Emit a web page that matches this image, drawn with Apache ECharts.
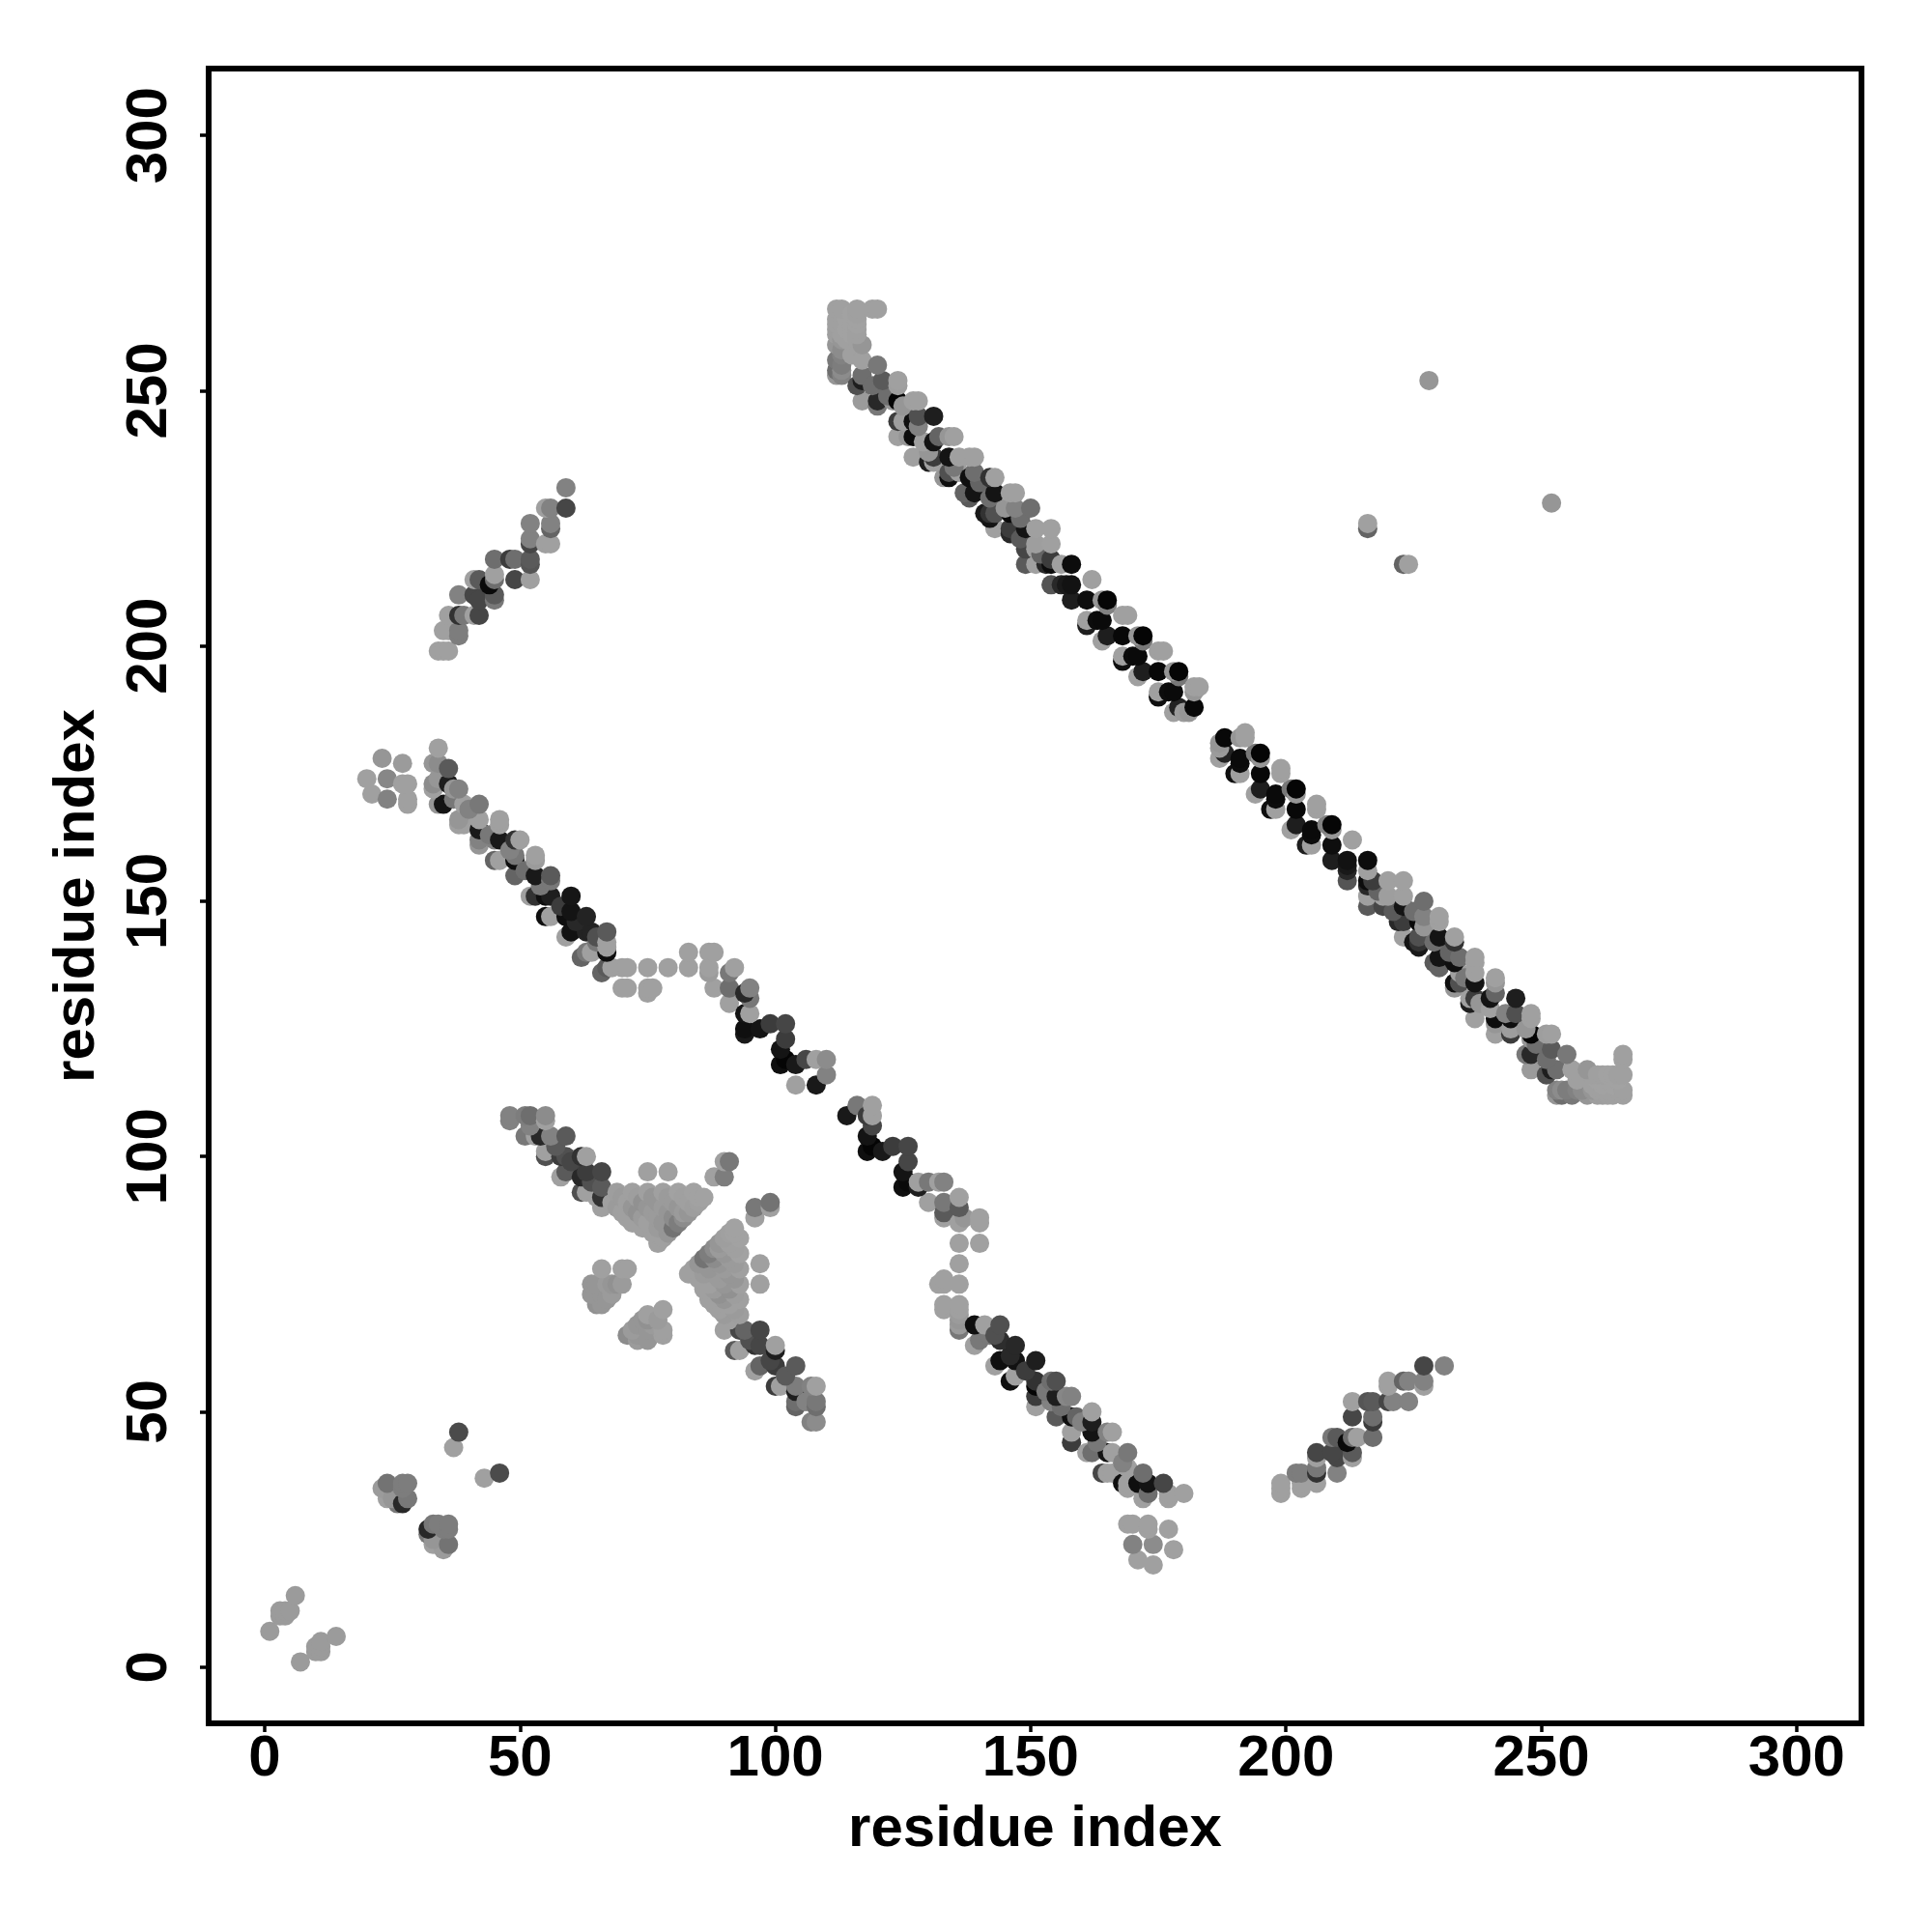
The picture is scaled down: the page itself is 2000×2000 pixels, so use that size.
<!DOCTYPE html>
<html><head><meta charset="utf-8"><style>html,body{margin:0;padding:0;background:#fff}#c{width:2000px;height:2000px}</style>
<script src="https://cdn.jsdelivr.net/npm/echarts@6/dist/echarts.min.js"></script></head><body><div id="c"></div>
<script>
// Each contact is [residue x, residue y, grey level 0-255]
const tickValues = [0,50,100,150,200,250,300];
const axisTitle = 'residue index';
const sparseContacts = [[228,252,150],[252,228,150],[216,224,160],[216,223,100],[224,216,160],[223,216,100],
[6,14,155],[3,11,155],[4,11,155],[5,11,155],[4,10,155],[3,10,155],[1,7,155],[14,6,155],[11,5,155],[10,4,155],[11,4,155],[10,3,155],[11,3,155],[7,1,155]];
const smallClusters = [[38,46,75],[37,43,160],[46,38,75],[43,37,160],
[23,35,155],[24,36,115],[28,36,125],[27,36,125],[27,35,125],[24,33,160],[28,33,120],[27,32,40],[26,32,120],[25,33,150],
[35,23,155],[36,24,115],[36,28,125],[36,27,125],[35,27,125],[33,24,160],[33,28,120],[32,27,40],[32,26,120],[33,25,150],[34,28,125]];
const strand1Upper = [[112,266,160],[113,266,160],[116,266,160],[119,266,160],[120,266,160],
[112,264,160],[112,263,160],[112,262,158],[112,261,158],[113,265,160],[113,263,160],[113,262,160],[113,261,160],[114,264,162],[114,262,162],[114,260,160],[115,265,162],[115,263,162],[115,261,162],[116,265,160],[116,264,162],[116,263,162],[116,262,160],[116,261,160],[116,260,160],[112,259,150],[113,260,150],[113,258,140],[117,259,150],[113,257,130],[112,256,120],[113,255,125],[112,254,110],[113,254,140],[112,253,150],[113,253,130],[115,257,160],
[117,256,160],[120,255,120],[117,253,110],[117,252,30],[116,251,80],[117,248,155],[121,252,90],[120,248,40],[120,247,120],[119,251,110],[124,252,160],[124,251,158],[124,248,5],[123,248,150],[127,248,160],[128,248,160],[124,244,60],[124,241,160],[125,244,158],[127,244,15],[128,245,80],[131,245,30],[127,241,12],[126,241,150],[131,240,20],[132,241,100],[135,241,160],[134,241,150],[131,237,60],[131,236,160],[127,237,160],[130,238,150],[134,237,20],[136,237,160],[138,237,160],[139,237,160],[134,234,80],[134,233,15],[133,233,150],[136,234,160],[138,233,15],[139,234,110],[143,233,160],[142,233,50],[139,230,20],[138,229,90],[143,230,20],[142,229,110],[146,230,160],[147,230,160],[147,227,130],[146,226,10],[145,227,150],[150,227,110],[143,226,80],[142,226,50],[142,225,20],[143,223,160],[146,223,60],[146,222,40],[149,223,20],[151,223,160],[154,223,160],[154,220,160],[151,219,160],[149,219,70],[151,220,158],[149,216,90],[151,216,160],[154,216,12],[154,217,60],[153,216,40],
[154,212,85],[157,212,25],[158,212,18],[158,216,12],[156,216,160],[162,213,160],[161,209,14],[158,209,30],[164,209,150],[165,208,130],[165,209,6],
[161,205,160],[161,204,30],[163,205,12],[164,205,10],[168,206,160],[169,206,160],[165,202,30],[164,201,160],[168,202,8],[172,202,5],[172,201,120],[171,202,150],
[168,198,160],[168,197,15],[170,198,12],[171,198,10],[175,199,160],[176,199,160],[172,195,30],[171,194,160],[175,195,8],[179,195,5],[179,194,120],[178,195,150],
[175,191,160],[175,190,15],[177,191,12],[178,191,10],[182,192,160],[183,192,160],[182,191,150],[179,188,35],[178,187,160],[182,188,8],[181,187,150],[180,187,155]];
const strand1Lower = [[266,112,160],[266,113,160],[266,116,160],[266,119,160],[266,120,160],
[264,112,160],[263,112,160],[262,112,158],[261,112,158],[265,113,160],[263,113,160],[262,113,160],[261,113,160],[264,114,162],[262,114,162],[260,114,160],[265,115,162],[263,115,162],[261,115,162],[265,116,160],[264,116,162],[263,116,162],[262,116,160],[261,116,160],[260,116,160],[259,112,150],[260,113,150],[258,113,140],[259,117,150],[257,113,130],[256,112,120],[255,113,125],[254,112,110],[254,113,140],[253,112,150],[253,113,130],[257,115,160],
[256,117,160],[255,120,120],[253,117,110],[252,117,30],[251,116,80],[248,117,155],[252,121,90],[248,120,40],[247,120,120],[251,119,110],[252,124,160],[251,124,158],[248,124,5],[248,123,150],[248,127,160],[248,128,160],[244,124,60],[241,124,160],[244,125,158],[244,127,15],[245,128,80],[245,131,30],[241,127,12],[241,126,150],[240,131,20],[241,132,100],[241,135,160],[241,134,150],[237,131,60],[236,131,160],[237,127,160],[238,130,150],[237,134,20],[237,136,160],[237,138,160],[237,139,160],[234,134,80],[233,134,15],[233,133,150],[234,136,160],[233,138,15],[234,139,110],[233,143,160],[233,142,50],[230,139,20],[229,138,90],[230,143,20],[229,142,110],[230,146,160],[230,147,160],[227,147,130],[226,146,10],[227,145,150],[227,150,110],[226,143,80],[226,142,50],[225,142,20],[223,143,160],[223,146,60],[222,146,40],[223,149,20],[223,151,160],[223,154,160],[220,154,160],[219,151,160],[219,149,70],[220,151,158],[216,149,90],[216,151,160],[216,154,12],[217,154,60],[216,153,40],
[212,154,85],[212,157,25],[212,158,18],[216,158,12],[216,156,160],[213,162,160],[209,161,14],[209,158,30],[209,164,150],[208,165,130],[209,165,6],
[205,161,160],[204,161,30],[205,163,12],[205,164,10],[206,168,160],[206,169,160],[202,165,30],[201,164,160],[202,168,8],[202,172,5],[201,172,120],[202,171,150],
[198,168,160],[197,168,15],[198,170,12],[198,171,10],[199,175,160],[199,176,160],[195,172,30],[194,171,160],[195,175,8],[195,179,5],[194,179,120],[195,178,150],
[191,175,160],[190,175,15],[191,177,12],[191,178,10],[192,182,160],[192,183,160],[191,182,150],[188,179,35],[187,178,160],[188,182,8],[187,181,150],[187,180,155]];
const strand2Upper = [[23,178,150],[27,177,155],[20,174,160],[24,174,135],[28,173,160],[27,173,160],[21,171,160],[24,170,130],[28,170,160],[28,169,160],
[34,180,160],[33,177,150],[34,177,140],[36,176,90],[33,173,140],[34,174,150],[36,173,30],[38,172,130],[37,172,150],[33,172,160],[35,169,20],[34,169,150],[39,169,160],[37,170,120],[42,169,120],[38,165,160],[39,165,160],[38,166,150],[42,166,160],[42,164,25],[42,162,130],[42,161,150],[46,166,160],[46,165,160],[45,162,130],[46,162,25],[49,162,50],[50,162,160],[45,158,100],[46,158,160],[49,159,120],[53,159,160],[49,158,15],[53,158,155],[49,155,100],[53,155,25],[56,155,90],[56,154,120],[52,151,160],[53,151,50],[56,151,30],[55,151,15],[60,151,22],[56,147,160],[55,147,15],[59,147,15],[60,148,20],[63,147,35],[60,144,18],[59,143,160],[63,144,35],[64,144,35],[67,144,90],[63,140,120],[62,139,100],[64,140,160],[67,141,160],[67,140,15],[67,142,160],
[67,137,90],[66,136,100],[68,137,160],[70,137,160],[71,137,160],[70,133,160],[71,133,160],[75,137,160],[75,133,160],[76,133,160],[75,132,160],[79,137,160],[83,137,160],[83,140,160],[87,140,160],[88,140,160],[87,137,160],[87,136,155],[92,137,160],[91,136,120],[88,133,160],[91,133,110],[91,130,160],[95,133,130],[95,131,120],[95,128,160],[94,132,40],[94,128,20],[94,125,15],[94,124,25],[97,125,20],[99,126,60],[102,126,70],[102,123,60],[101,121,20],[102,119,5],[101,118,15],[104,118,25],[106,119,70],[108,119,160],[110,119,140],[110,116,130],[104,114,160],[108,114,25]];
const strand2Lower = [[114,108,25],[116,110,120],[119,110,160],[119,108,160],[118,108,60],[119,106,70],[118,104,20],[119,102,5],[118,101,15],[121,101,25],[123,102,60],[126,102,70],[126,99,70],[125,97,20],[126,95,10],[125,94,15],[128,94,30],[128,95,160],[130,95,120],[133,95,130],[132,95,160],[130,91,160],[133,91,120],[133,89,90],[136,92,160],[136,90,90],[133,88,160],[137,88,150],[136,87,160],[140,88,160],[140,87,160],[136,83,160],[140,83,160],[136,79,160],[132,75,160],[133,76,160],[133,75,160],[136,75,160],[133,71,160],[133,70,160],[136,71,160],[136,70,160],[136,69,155],[136,68,150],[136,67,155],[136,66,120],
[139,67,15],[141,67,160],[144,67,80],[139,63,160],[140,64,120],[144,64,45],[147,63,40],[144,60,15],[143,59,160],[147,60,18],[151,60,30],[147,57,160],[146,56,15],[151,56,50],[151,55,5],[155,56,80],[154,56,110],[151,53,60],[151,51,160],[155,53,30],[154,52,130],[158,53,130],[157,53,135],[155,49,90],[158,49,15],[159,49,100],[162,50,160],[162,48,30],[158,46,160],[158,44,60],[162,46,20],[166,46,160],[165,46,130],[162,42,110],[161,42,160],[166,42,160],[165,42,20],[169,42,120],[165,38,160],[166,38,160],[164,38,70],[169,39,160],[169,36,160],[168,36,15],[172,38,110],[171,36,15],[173,36,20],[176,36,70],[169,35,160],[172,33,160],[173,34,110],[177,34,160],[177,33,160],[180,34,160],
[169,28,160],[170,28,160],[173,28,160],[173,27,160],[177,27,160],[170,24,130],[174,24,140],[178,23,160],[171,21,160],[174,20,160]];
const strand3Upper = [[48,108,130],[48,107,130],[51,108,125],[52,108,110],[55,108,140],[51,104,120],[55,107,160],[53,104,160],[54,104,40],[56,104,130],[59,104,90],[55,101,160],[55,100,80],[59,100,80],[58,100,60],[63,100,160],[62,100,50],[58,96,160],[59,97,90],[63,97,60],[62,96,40],[66,97,70],[63,93,160],[62,93,80],[66,94,90],[66,92,50],[65,92,160],[66,90,160],[75,97,160],[79,97,160],[88,96,160],[90,96,125],[90,99,160],[91,99,120],[96,90,120],[99,91,115],[96,88,160],[99,90,160]];
const strand3Lower = [[93,66,70],[94,66,100],[97,66,70],[97,63,70],[93,62,160],[92,62,90],[96,63,50],[100,63,160],[100,62,30],[97,59,100],[96,58,160],[100,59,60],[104,59,90],[100,55,60],[101,55,160],[104,55,125],[104,54,30],[108,55,160],[107,55,130],[104,52,110],[104,51,100],[108,52,120],[108,51,110],[108,48,140],[107,48,130]];
const triangleUpper = [[69,93,158],[72,93,160],[75,93,160],[78,93,160],[81,93,162],[84,93,162],[70,92,155],[73,92,158],[76,92,150],[79,92,155],[82,92,160],[85,92,162],[86,92,162],[68,91,160],[71,91,160],[74,91,145],[77,91,150],[80,91,155],[83,91,160],[85,91,160],[69,90,155],[72,90,150],[75,90,150],[78,90,155],[81,90,150],[84,90,158],[70,89,160],[73,89,145],[76,89,155],[79,89,150],[82,89,155],[83,89,150],[71,88,160],[74,88,155],[77,88,155],[80,88,140],[82,88,140],[72,87,160],[75,87,160],[78,87,150],[81,87,125],[74,86,160],[77,86,155],[80,86,115],[76,85,160],[79,85,150],[78,84,160],[77,83,160]];
const triangleLower = [[93,69,158],[93,72,160],[93,75,160],[93,78,160],[93,81,162],[93,84,162],[92,70,155],[92,73,158],[92,76,150],[92,79,155],[92,82,160],[92,85,162],[92,86,162],[91,68,160],[91,71,160],[91,74,145],[91,77,150],[91,80,155],[91,83,160],[91,85,160],[90,69,155],[90,72,150],[90,75,150],[90,78,155],[90,81,150],[90,84,158],[89,70,160],[89,73,145],[89,76,155],[89,79,150],[89,82,155],[89,83,150],[88,71,160],[88,74,155],[88,77,155],[88,80,140],[88,82,140],[87,72,160],[87,75,160],[87,78,150],[87,81,125],[86,74,160],[86,77,155],[86,80,115],[85,76,160],[85,79,150],[84,78,160],[83,77,160],[90,66,160],[97,79,160],[97,75,160]];
const smallBlobs = [[66,78,160],[70,78,160],[71,78,160],[64,75,150],[65,75,150],[67,75,155],[69,75,145],[70,75,155],[64,73,150],[66,73,150],[68,73,155],[65,71,145],[66,71,150],[68,75,150],[67,72,150],
[78,70,160],[78,66,160],[71,65,140],[73,64,155],[75,64,150],[75,69,160],[76,67,155],[73,67,150],[78,65,160],[75,66,150],[73,65,150],[74,68,150],[72,66,155],[77,68,155],[75,68,145]];
const strandEdgeDots = [[130,236,30],[129,240,160],[137,230,100],[141,226,25],[156,212,40],[125,247,150],[122,249,110],[128,243,130],[135,235,120],[140,232,100],[148,225,110],[152,218,100],[148,221,90],
[236,130,30],[240,129,160],[230,137,100],[226,141,25],[212,156,40],[247,125,150],[249,122,110],[243,128,130],[235,135,120],[232,140,100],[225,148,110],[218,152,100],[221,148,90],
[40,168,130],[44,163,120],[48,160,130],[51,156,110],[54,153,120],[58,149,60],[61,146,40],[65,142,120],[65,143,80],
[168,40,130],[163,44,120],[160,48,130],[156,51,110],[153,54,120],[149,58,60],[146,61,40],[142,65,120],[143,65,80],
[57,102,90],[60,99,70],[64,95,80],[52,106,130],[102,57,90],[99,60,70],[95,64,80],[106,52,130]];
const parallelUpper = [[59,231,130],[59,227,70],[55,227,160],[56,227,130],[56,224,130],[56,223,100],[52,224,130],[52,221,130],[52,220,70],[55,220,160],[56,220,160],[52,217,90],[52,216,85],[48,217,60],[49,217,110],[45,217,110],[49,213,70],[52,213,160],[45,214,160],[45,213,110],[44,212,10],[42,213,90],[41,213,160],[45,210,90],[45,209,120],[41,210,70],[38,210,130],[42,209,70],[38,206,50],[39,206,120],[36,206,160],[42,206,70],[41,206,160],[35,203,160],[38,203,125],[38,202,125],[36,203,160],[34,199,160],[36,199,160],[35,199,160]];
const parallelLower = [[231,59,130],[227,59,70],[227,55,160],[227,56,130],[224,56,130],[223,56,100],[224,52,130],[221,52,130],[220,52,70],[220,55,160],[220,56,160],[217,52,90],[216,52,85],[217,48,60],[217,49,110],[217,45,110],[213,49,70],[213,52,160],[214,45,160],[213,45,110],[212,44,10],[213,42,90],[213,41,160],[210,45,90],[209,45,120],[210,41,70],[210,38,130],[209,42,70],[206,38,50],[206,39,120],[206,36,160],[206,42,70],[206,41,160],[203,35,160],[203,38,125],[202,38,125],[203,36,160],[199,34,160],[199,36,160],[199,35,160]];

const allContacts = [].concat(sparseContacts, smallClusters, strand1Upper, strand1Lower, strand2Upper, strand2Lower, strand3Upper, strand3Lower, triangleUpper, triangleLower, smallBlobs, strandEdgeDots, parallelUpper, parallelLower);
allContacts.sort((a,b)=> (a[0]+a[1])-(b[0]+b[1]));

const font = {fontFamily:'Liberation Sans',fontWeight:'bold',fontSize:60,color:'#000'};
const chart = echarts.init(document.getElementById('c'),null,{renderer:'canvas'});
chart.setOption({
  animation:false,backgroundColor:'#fff',
  grid:{left:216,top:71,width:1711,height:1713,show:true,borderColor:'#000',borderWidth:6,backgroundColor:'transparent'},
  xAxis:{type:'value',min:-10.97,max:312.7,splitLine:{show:false},
    axisLine:{show:false,onZero:false},
    axisTick:{show:true,length:9,inside:false,customValues:tickValues,lineStyle:{color:'#000',width:3.5}},
    axisLabel:{show:true,margin:7,customValues:tickValues,hideOverlap:false,...font},
    name:axisTitle,nameLocation:'middle',nameGap:80,nameTextStyle:{...font}},
  yAxis:{type:'value',min:-11.03,max:313.1,splitLine:{show:false},
    axisLine:{show:false,onZero:false},
    axisTick:{show:true,length:9,inside:false,customValues:tickValues,lineStyle:{color:'#000',width:3.5}},
    axisLabel:{show:true,margin:61,rotate:90,customValues:tickValues,hideOverlap:false,align:'center',verticalAlign:'middle',...font},
    name:axisTitle,nameLocation:'middle',nameGap:106,nameRotate:90,nameTextStyle:{...font}},
  series:[{type:'scatter',symbol:'circle',symbolSize:20,data:allContacts,encode:{x:0,y:1},
    itemStyle:{color:p=>{const g=p.data[2];return 'rgb('+g+','+g+','+g+')';},opacity:1},
    emphasis:{disabled:true},clip:false,progressive:0}]
});
</script></body></html>
